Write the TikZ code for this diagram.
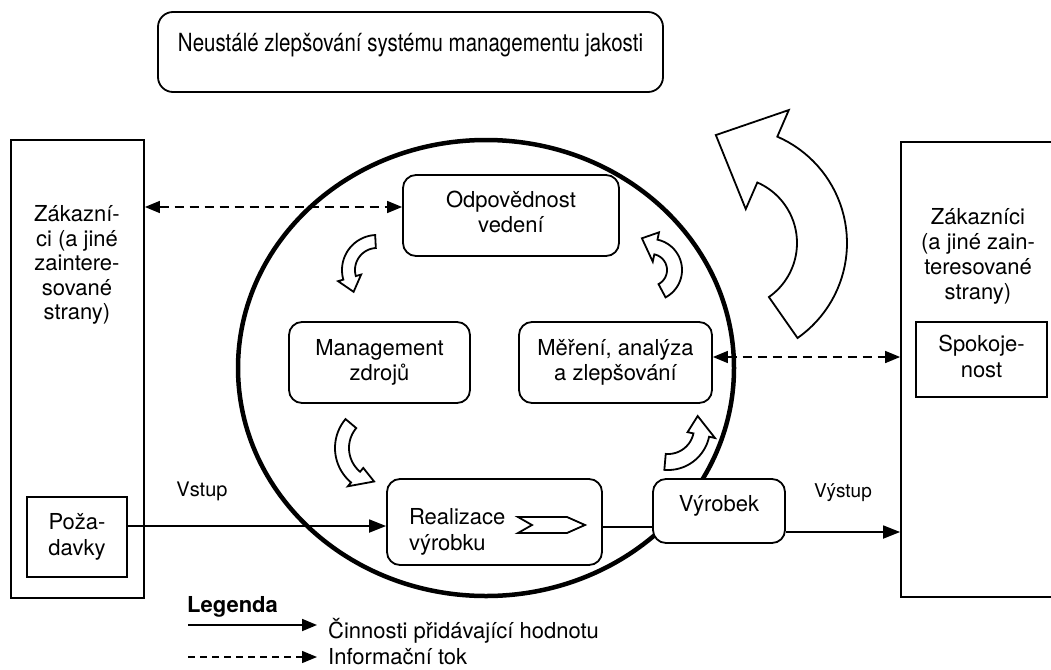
\documentclass[tikz,border=0pt]{standalone}
\usepackage{fontspec}
\setmainfont{TeX Gyre Heros}
\newfontfamily\narrowfont[FakeStretch=0.82]{TeX Gyre Heros}
\usetikzlibrary{arrows.meta,shapes.geometric,calc}

\tikzset{
  box/.style={draw, line width=1.8pt, fill=white, inner sep=0pt},
  rbox/.style={box, rounded corners=13pt},
  body/.style={font=\fontsize{22}{25.5}\selectfont, align=center, inner sep=0pt},
  small/.style={font=\fontsize{19}{22}\selectfont, inner sep=0pt},
  flow/.style={line width=1.8pt, -{Triangle[length=17pt,width=13pt]}},
  info/.style={line width=1.6pt, dash pattern=on 9pt off 6pt,
    {Triangle[length=15pt,width=12pt]}-{Triangle[length=15pt,width=12pt]}},
  legflow/.style={line width=1.8pt, -{Triangle[length=15pt,width=12pt]}},
  leginfo/.style={line width=1.4pt, dash pattern=on 7pt off 5pt, -{Triangle[length=15pt,width=12pt]}},
  bentstyle/.style={draw, line width=1.8pt, fill=white, line join=miter},
}

% curved block arrow: centre x, centre y, mid radius, half band width,
% tail angle, head-base angle, half head width, tip angle, tip radius
\newcommand{\bentarrow}[9]{%
  \draw[bentstyle]
    plot[domain=0:1, samples=40, variable=\t]
      ({#1+(#3+#4)*cos((#5)+((#6)-(#5))*\t)}, {#2+(#3+#4)*sin((#5)+((#6)-(#5))*\t)})
    -- ({#1+(#3+#7)*cos(#6)}, {#2+(#3+#7)*sin(#6)})
    -- ({#1+(#9)*cos(#8)}, {#2+(#9)*sin(#8)})
    -- ({#1+(#3-#7)*cos(#6)}, {#2+(#3-#7)*sin(#6)})
    -- plot[domain=0:1, samples=40, variable=\t]
      ({#1+(#3-#4)*cos((#5)+((#6)-(#5))*(1-\t))}, {#2+(#3-#4)*sin((#5)+((#6)-(#5))*(1-\t))})
    -- cycle;}

\begin{document}
\begin{tikzpicture}[x=1pt,y=-1pt]
\fill[white] (0,0) rectangle (1051,669);
\useasboundingbox (0,0) rectangle (1051,669);
\clip (0,0) rectangle (1051,669);

% heading
\node[rbox, rounded corners=15pt, minimum width=505pt, minimum height=80pt,
      font=\narrowfont\fontsize{25}{30}\selectfont, text depth=20pt]
  (title) at (410.5,52) {Neustálé zlepšování systému managementu jakosti};

% customers, input side
\node[box, minimum width=133pt, minimum height=458pt] (leftbox) at (77.5,369) {};
\node[body, font=\fontsize{22}{24.5}\selectfont] (custL) at (77,265)
  {Zákazní-\\ci (a jiné\\zaintere-\\sované\\strany)};
\node[box, minimum width=100pt, minimum height=80pt, body] (req) at (77,537) {Poža-\\davky};

% customers, output side (runs past the right edge)
\node[box, minimum width=160pt, minimum height=455pt] (rightbox) at (981,369.5) {};
\node[body, font=\fontsize{22}{25}\selectfont] (custR) at (978,256.5)
  {Zákazníci\\(a jiné zain-\\teresované\\strany)};
\node[box, minimum width=131pt, minimum height=75pt, body, text depth=6pt] (sat) at (981.5,359.5) {Spokoje-\\nost};

% the process loop
\node[draw, ellipse, line width=4.5pt, minimum width=496pt, minimum height=456pt] (loop) at (486,368) {};

\node[rbox, minimum width=216pt, minimum height=81pt, body, text depth=7pt] (resp) at (511,215.5) {Odpovědnost\\vedení};
\node[rbox, minimum width=181pt, minimum height=81pt, body] (res) at (379.5,362.5) {Management\\zdrojů};
\node[rbox, minimum width=193pt, minimum height=81pt, body] (meas) at (615.5,362.5) {Měření, analýza\\a zlepšování};
\node[rbox, minimum width=215pt, minimum height=86pt, body, align=left, text width=171pt, text depth=11pt]
  (real) at (494.5,522) {Realizace\\výrobku};
\node[rbox, minimum width=132pt, minimum height=64pt, body, text depth=16pt] (prod) at (719,511) {Výrobek};

% chevron inside product realisation
\draw[line width=1.8pt, fill=white, line join=miter]
  (518,517) -- (567,517) -- (585,525) -- (567,533) -- (518,533) -- (532,525) -- cycle;

% curved arrows of the loop
\bentarrow{377}{270}{28.5}{6.5}{-93}{-196}{12}{-223}{32}
\bentarrow{651}{270}{23.5}{7.5}{62}{-78}{15}{-106}{33}
\bentarrow{380}{448}{38}{7}{-140}{-230}{12}{-260}{34}
\bentarrow{668}{428}{34}{8}{95}{12}{14}{-22}{32}

% continual improvement arrow
\bentarrow{731}{243}{91}{25}{55}{-66.5}{54}{-98}{109}

% connectors
\coordinate (ia) at ([yshift=8.5pt]resp.west);
\draw[info] (ia -| leftbox.east) -- (ia);
\coordinate (ib) at ([yshift=5.5pt]meas.east);
\draw[info] (ib) -- (ib -| rightbox.west);

\coordinate (ins) at ([yshift=-4pt]real.west);
\draw[flow] (ins -| req.east) -- (ins);
\coordinate (pl) at ([yshift=-5pt]real.east);
\draw[line width=1.8pt] (pl) -- (pl -| prod.west);
\coordinate (outs) at ([yshift=-21pt]prod.east);
\draw[flow] (outs) -- (outs -| rightbox.west);

\node[small, font=\fontsize{20}{24}\selectfont] (vin) at (202,491) {Vstup};
\node[small] (vout) at (843,493) {Výstup};

% legend
\node[anchor=base west, inner sep=0pt, font=\bfseries\fontsize{22}{26}\selectfont] (leg) at (187,612) {Legenda};
\coordinate (la) at (188,625);
\coordinate (lb) at (317,625);
\draw[legflow] (la) -- (lb);
\node[anchor=base west, inner sep=0pt, font=\fontsize{22}{26}\selectfont] (legA) at (328,638) {Činnosti přidávající hodnotu};
\coordinate (lc) at (188,657);
\coordinate (ld) at (317,657);
\draw[leginfo] (lc) -- (ld);
\node[anchor=base west, inner sep=0pt, font=\fontsize{22}{26}\selectfont] (legB) at (328,664) {Informační tok};
\end{tikzpicture}
\end{document}
